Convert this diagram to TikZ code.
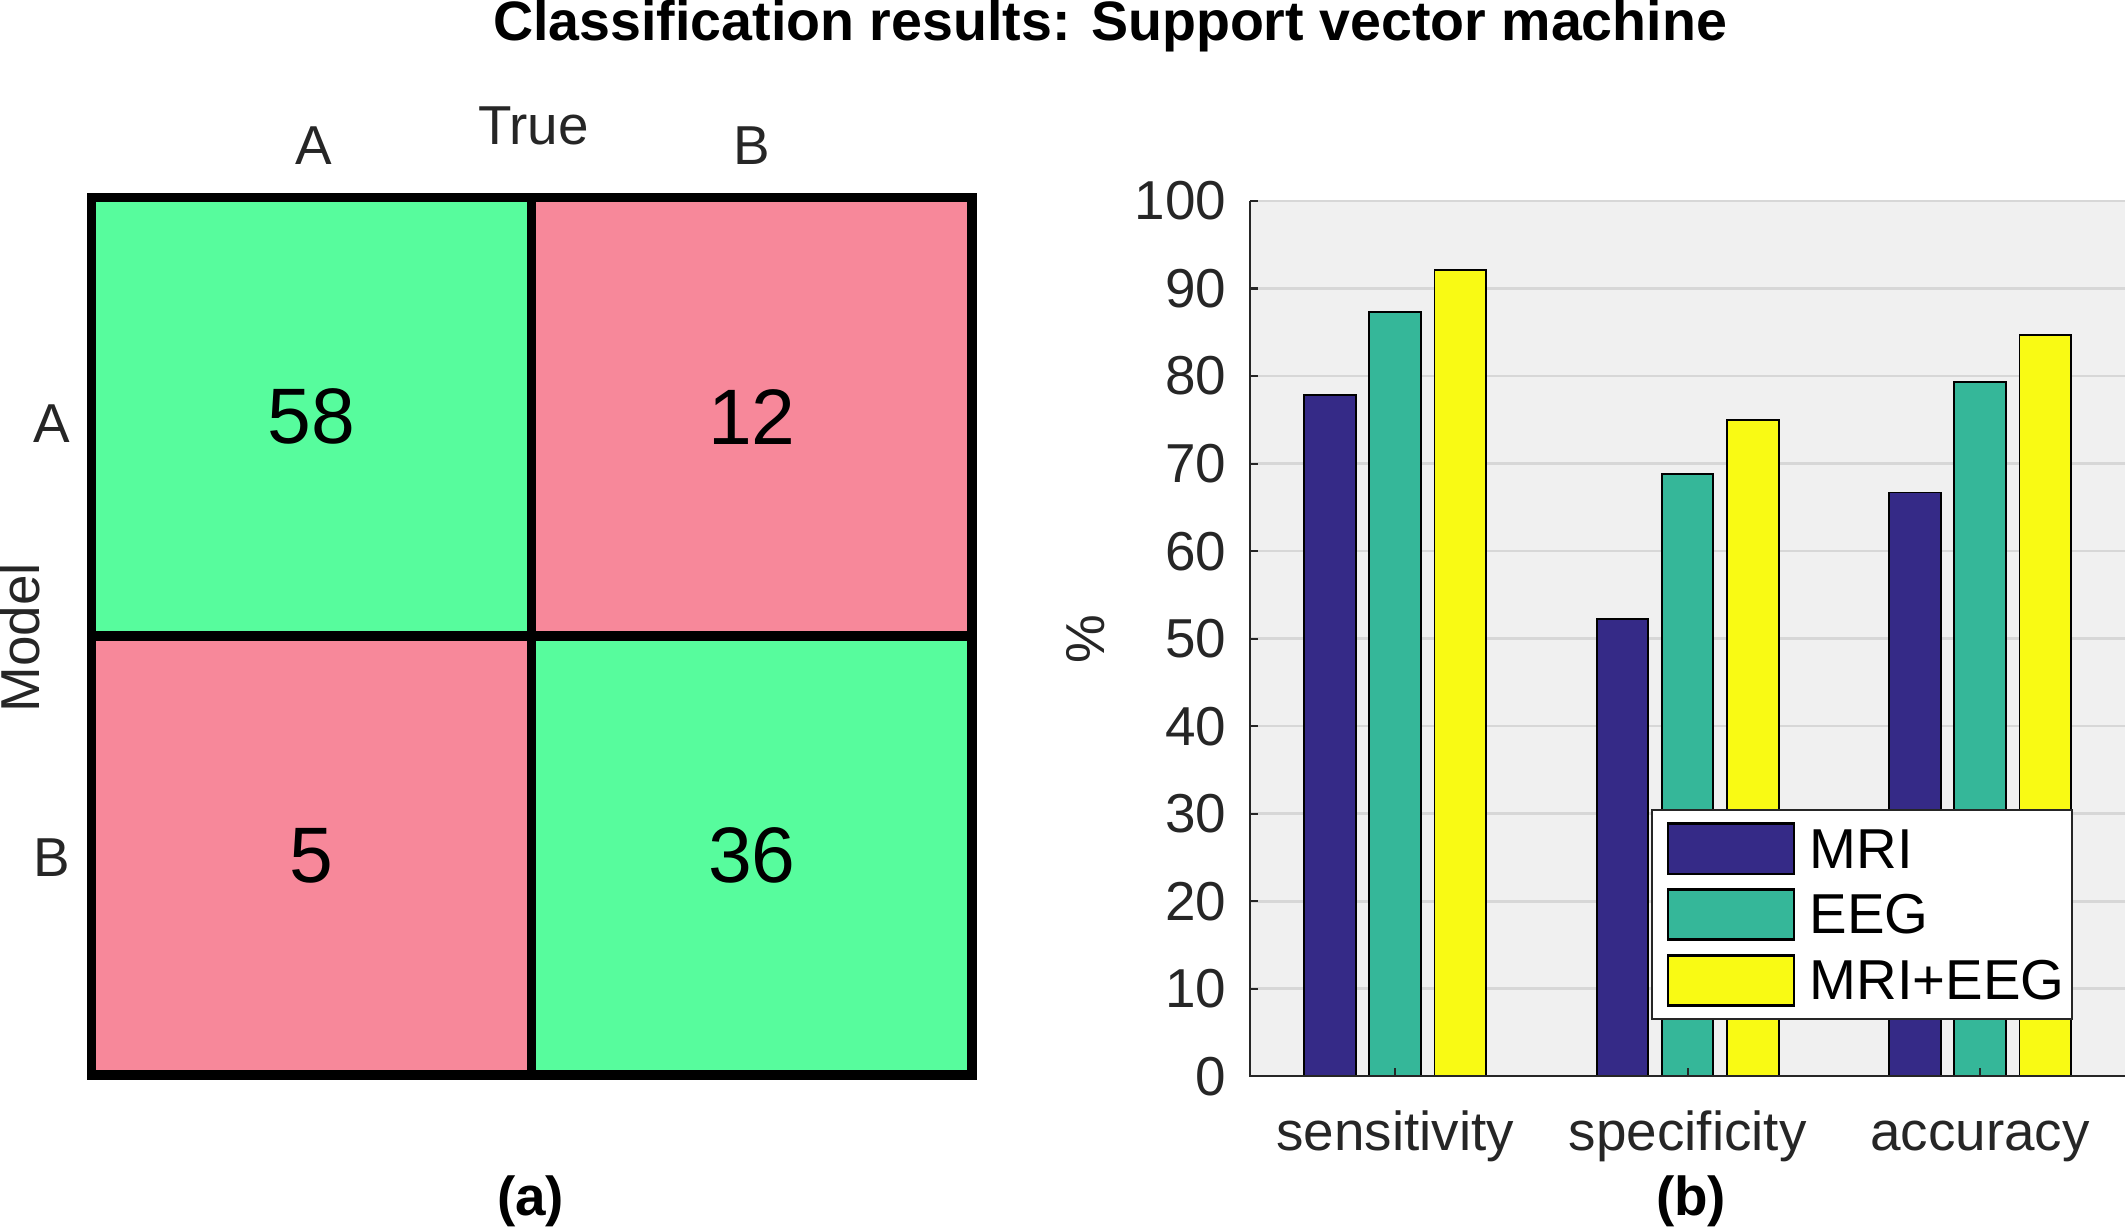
\documentclass[tikz,border=0pt]{standalone}
\usepackage{fontspec}
\setmainfont{Liberation Sans}
\usepackage{tikz}
\usetikzlibrary{positioning}

\definecolor{hitgreen}{HTML}{57FC9D}
\definecolor{misspink}{HTML}{F7889A}
\definecolor{mriblue}{HTML}{352A87}
\definecolor{eegteal}{HTML}{35B799}
\definecolor{bothyellow}{HTML}{F9FA14}
\definecolor{axisgray}{HTML}{262626}
\definecolor{panelgray}{HTML}{F0F0F0}
\definecolor{gridgray}{HTML}{D7D7D7}

\tikzset{
  lbl/.style={text=axisgray, font=\fontsize{23}{27}\selectfont, inner sep=0pt},
  cell/.style={draw=black, line width=4pt, minimum width=6.49cm, minimum height=6.46cm,
    inner sep=0pt, outer sep=0pt, font=\fontsize{33}{38}\selectfont},
  bar/.style={draw=black, line width=0.8pt},
  gridline/.style={gridgray, line width=1.1pt},
  axisline/.style={axisgray, line width=0.9pt},
  legpatch/.style={draw=black, line width=1.1pt, minimum width=1.86cm, minimum height=0.74cm,
    inner sep=0pt},
  legtext/.style={font=\fontsize{23.6}{28}\selectfont, inner sep=0pt, anchor=west}
}

\begin{document}
\begin{tikzpicture}[x=0.02cm, y=-0.02cm]
  \useasboundingbox (0,0) rectangle (1568,906);

  % title
  \node[font=\bfseries\fontsize{23.3}{27}\selectfont, inner sep=0pt] (title) at (818,19)
    {Classification results: Support vector machine};

  % (a) confusion matrix
  \node[cell, fill=hitgreen] (c11) at (229.5,307) {58};
  \node[cell, fill=misspink] (c12) at (554,307) {12};
  \node[cell, fill=misspink] (c21) at (229.5,630.5) {5};
  \node[cell, fill=hitgreen] (c22) at (554,630.5) {36};

  \node[lbl] (colA) at (231,107) {A};
  \node[lbl] (colB) at (554,107) {B};
  \node[lbl] (truelbl) at (393,93) {True};
  \node[lbl] (rowA) at (38,312) {A};
  \node[lbl] (rowB) at (38,632) {B};
  \node[lbl, rotate=90] (modellbl) at (15,470) {Model};
  \node[lbl, text=black, font=\bfseries\fontsize{23}{27}\selectfont] (capa) at (391,885) {(a)};

  % (b) bar chart
  \begin{scope}[shift={(921,793)}, y=0.129cm]
    \fill[panelgray] (0,0) rectangle (645,100);
    \foreach \g in {10,20,...,100}
      \draw[gridline] (0,\g) -- (645,\g);

    % bars: MRI, EEG, MRI+EEG
    \foreach \v [count=\i] in {77.8,52.2,66.7}
      \draw[bar, fill=mriblue] ({215.5*\i-108.5-48-19},0) rectangle ++(38,\v);
    \foreach \v [count=\i] in {87.3,68.8,79.3}
      \draw[bar, fill=eegteal] ({215.5*\i-108.5-19},0) rectangle ++(38,\v);
    \foreach \v [count=\i] in {92.1,75.0,84.7}
      \draw[bar, fill=bothyellow] ({215.5*\i-108.5+48-19},0) rectangle ++(38,\v);

    \draw[axisline] (0,100) -- (0,0) -- (645,0);
    \foreach \g in {0,10,...,100} {
      \draw[axisline] (0,\g) -- (6,\g);
      \node[lbl, anchor=east] at (-17,\g) {\g};
    }
    \foreach \name [count=\i] in {sensitivity,specificity,accuracy} {
      \draw[axisline] ({215.5*\i-108.5},0) -- ({215.5*\i-108.5},0.9);
      \node[lbl, anchor=base] (x\i) at ({215.5*\i-108.5},-8.5) {\name};
    }
    \node[lbl, rotate=90] (pct) at (-121,50) {\%};
  \end{scope}

  % legend
  \node[draw=axisgray, fill=white, line width=0.8pt, minimum width=6.2cm, minimum height=3.08cm,
    inner sep=0pt] (legend) at (1372,674) {};
  \node[legpatch, fill=mriblue] (pmri) at (1275.5,625.5) {};
  \node[legpatch, fill=eegteal, below=0.19cm of pmri] (peeg) {};
  \node[legpatch, fill=bothyellow, below=0.19cm of peeg] (pboth) {};
  \node[legtext, right=0.2cm of pmri] (tmri) {MRI};
  \node[legtext, right=0.2cm of peeg] (teeg) {EEG};
  \node[legtext, right=0.2cm of pboth] (tboth) {MRI+EEG};

  \node[lbl, text=black, font=\bfseries\fontsize{23}{27}\selectfont] (capb) at (1246,885) {(b)};
\end{tikzpicture}
\end{document}
